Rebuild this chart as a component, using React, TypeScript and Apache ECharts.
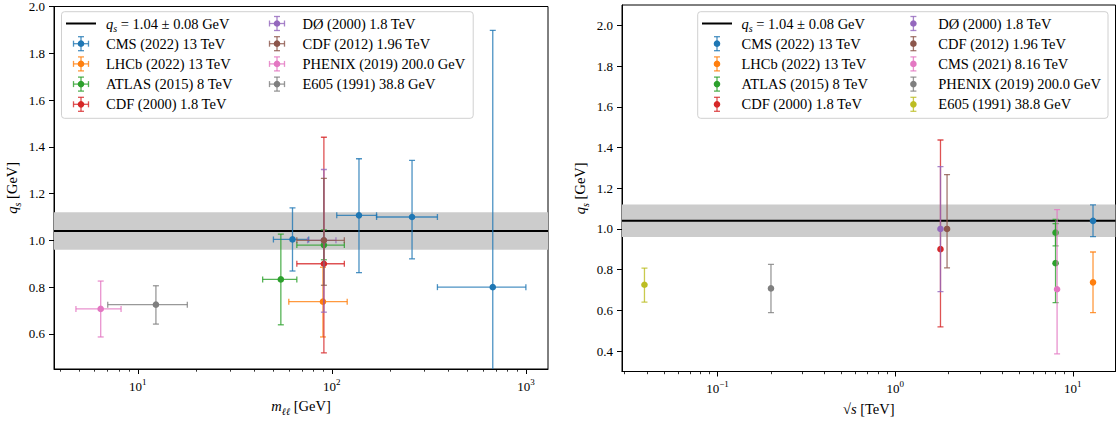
import React, { useEffect, useRef } from "react";
import * as echarts from "echarts";

const FONT = '"Liberation Serif", "Times New Roman", serif';

// ---------- Left panel: q_s versus m_ll [GeV] ----------
// tuples: [m_ll, m_ll low, m_ll high, q_s, q_s low, q_s high]
const mllCMS2022 = [
  [62.7, 50, 76, 1.004, 0.869, 1.139],
  [138, 106, 170, 1.107, 0.862, 1.349],
  [259, 170, 350, 1.1, 0.921, 1.342],
  [675, 350, 1000, 0.8, -0.3, 1.898],
];
const mllLHCb2022 = [[90, 60, 120, 0.738, 0.587, 0.885]];
const mllATLAS2015 = [
  [54.6, 44, 66, 0.833, 0.639, 1.027],
  [91, 66, 116, 0.98, 0.917, 1.045],
];
const mllCDF2000 = [[91, 66, 116, 0.9, 0.519, 1.441]];
const mllD02000 = [[91, 75, 105, 1.0, 0.693, 1.303]];
const mllCDF2012 = [[91, 66, 116, 1.0, 0.808, 1.265]];
const mllPHENIX2019 = [[6.44, 4.8, 8.2, 0.707, 0.587, 0.826]];
const mllE6051991 = [[12.4, 7, 18, 0.725, 0.642, 0.806]];

const leftLabels = [
  "CMS (2022) 13 TeV",
  "LHCb (2022) 13 TeV",
  "ATLAS (2015) 8 TeV",
  "CDF (2000) 1.8 TeV",
  "DØ (2000) 1.8 TeV",
  "CDF (2012) 1.96 TeV",
  "PHENIX (2019) 200.0 GeV",
  "E605 (1991) 38.8 GeV",
];
const leftColors = ["#1f77b4", "#ff7f0e", "#2ca02c", "#d62728", "#9467bd", "#8c564b", "#e377c2", "#7f7f7f"];
const leftData = [mllCMS2022, mllLHCb2022, mllATLAS2015, mllCDF2000, mllD02000, mllCDF2012, mllPHENIX2019, mllE6051991];

// ---------- Right panel: q_s versus sqrt(s) [TeV] ----------
// tuples: [sqrt(s), q_s, q_s low, q_s high]
const rtsCMS2022 = [[13, 1.04, 0.962, 1.118]];
const rtsLHCb2022 = [[13, 0.738, 0.589, 0.887]];
const rtsATLAS2015 = [
  [8, 0.982, 0.917, 1.047],
  [8, 0.832, 0.638, 1.026],
];
const rtsCDF2000 = [[1.8, 0.901, 0.519, 1.437]];
const rtsD02000 = [[1.8, 1.0, 0.692, 1.306]];
const rtsCDF2012 = [[1.96, 1.0, 0.809, 1.267]];
const rtsCMS2021 = [[8.16, 0.704, 0.387, 1.095]];
const rtsPHENIX2019 = [[0.2, 0.708, 0.589, 0.826]];
const rtsE6051991 = [[0.0388, 0.726, 0.641, 0.808]];

const rightLabels = [
  "CMS (2022) 13 TeV",
  "LHCb (2022) 13 TeV",
  "ATLAS (2015) 8 TeV",
  "CDF (2000) 1.8 TeV",
  "DØ (2000) 1.8 TeV",
  "CDF (2012) 1.96 TeV",
  "CMS (2021) 8.16 TeV",
  "PHENIX (2019) 200.0 GeV",
  "E605 (1991) 38.8 GeV",
];
const rightColors = ["#1f77b4", "#ff7f0e", "#2ca02c", "#d62728", "#9467bd", "#8c564b", "#e377c2", "#7f7f7f", "#bcbd22"];
const rightData = [rtsCMS2022, rtsLHCb2022, rtsATLAS2015, rtsCDF2000, rtsD02000, rtsCDF2012, rtsCMS2021, rtsPHENIX2019, rtsE6051991];

// ---------- Fit band q_s = 1.04 +- 0.08 ----------
const qsBand = [0.96, 1.12];
const qsCentral = 1.04;
const qsLabel = "{i|q}{s|s}{t| = 1.04 ± 0.08 GeV}";

// ---------- Axes ----------
const leftXRange = [3.7, 1300];
const leftYRange = [0.45, 2.0];
const rightXRange = [0.029, 17.4];
const rightYRange = [0.3, 2.1];
const leftXMajor = [10, 100, 1000];
const leftXMinor = [4, 5, 6, 7, 8, 9, 20, 30, 40, 50, 60, 70, 80, 90, 200, 300, 400, 500, 600, 700, 800, 900];
const rightXMajor = [0.1, 1, 10];
const rightXMinor = [0.03, 0.04, 0.05, 0.06, 0.07, 0.08, 0.09, 0.2, 0.3, 0.4, 0.5, 0.6, 0.7, 0.8, 0.9, 2, 3, 4, 5, 6, 7, 8, 9];
const leftYTicks = [0.6, 0.8, 1.0, 1.2, 1.4, 1.6, 1.8, 2.0];
const rightYTicks = [0.4, 0.6, 0.8, 1.0, 1.2, 1.4, 1.6, 1.8, 2.0];

const LEGEND_FS = 14.5;

const richText = {
  i: { fontFamily: FONT, fontStyle: "italic", fontSize: 14.5, color: "#000", lineHeight: 20, verticalAlign: "middle" },
  s: { fontFamily: FONT, fontStyle: "italic", fontSize: 10, color: "#000", lineHeight: 10, verticalAlign: "bottom" },
  t: { fontFamily: FONT, fontSize: 14.5, color: "#000", lineHeight: 20, verticalAlign: "middle" },
};

const supRich = {
  b: { fontFamily: FONT, fontSize: 13, color: "#000", lineHeight: 18, verticalAlign: "middle" },
  e: { fontFamily: FONT, fontSize: 9, color: "#000", lineHeight: 9, verticalAlign: "top" },
};

function logLabel(v: number) {
  const e = Math.round(Math.log10(v));
  return "{b|10}{e|" + (e < 0 ? "−" + -e : String(e)) + "}";
}

function errRenderer(color: string, withX: boolean) {
  return (params: any, api: any) => {
    let x: number, xl: number, xh: number, y: number, yl: number, yh: number;
    if (withX) {
      x = api.value(0); xl = api.value(1); xh = api.value(2);
      y = api.value(3); yl = api.value(4); yh = api.value(5);
    } else {
      x = api.value(0); y = api.value(1); yl = api.value(2); yh = api.value(3);
      xl = x; xh = x;
    }
    const c = api.coord([x, y]);
    const t = api.coord([x, yh]);
    const b = api.coord([x, yl]);
    const st = { stroke: color, lineWidth: 1.3, opacity: 0.8 };
    const cap = 3;
    const ln = (x1: number, y1: number, x2: number, y2: number) => ({
      type: "line",
      shape: { x1, y1, x2, y2 },
      style: st,
    });
    const ch: any[] = [];
    if (withX) {
      const l = api.coord([xl, y]);
      const r = api.coord([xh, y]);
      ch.push(ln(l[0], c[1], r[0], c[1]));
      ch.push(ln(l[0], c[1] - cap, l[0], c[1] + cap));
      ch.push(ln(r[0], c[1] - cap, r[0], c[1] + cap));
    }
    ch.push(ln(c[0], t[1], c[0], b[1]));
    ch.push(ln(c[0] - cap, t[1], c[0] + cap, t[1]));
    ch.push(ln(c[0] - cap, b[1], c[0] + cap, b[1]));
    ch.push({ type: "circle", shape: { cx: c[0], cy: c[1], r: 3.3 }, style: { fill: color } });
    return { type: "group", children: ch };
  };
}

function bandSeries(axisIdx: number, xMin: number) {
  return {
    type: "custom",
    xAxisIndex: axisIdx * 2,
    yAxisIndex: axisIdx,
    data: [[qsBand[0], qsBand[1], qsCentral]],
    encode: { x: 0, y: 1 },
    clip: true,
    z: 1,
    silent: true,
    renderItem: (params: any, api: any) => {
      const cs = params.coordSys;
      const top = api.coord([xMin, api.value(1)])[1];
      const bot = api.coord([xMin, api.value(0)])[1];
      const mid = api.coord([xMin, api.value(2)])[1];
      return {
        type: "group",
        children: [
          { type: "rect", shape: { x: cs.x, y: top, width: cs.width, height: bot - top }, style: { fill: "#cccccc" } },
          { type: "line", shape: { x1: cs.x, y1: mid, x2: cs.x + cs.width, y2: mid }, style: { stroke: "#000", lineWidth: 2 } },
        ],
      };
    },
  };
}

function makeLegend(
  box: number[],
  colHandle: number[],
  colText: number[],
  rows: number[],
  labels: string[],
  colors: string[],
  withX: boolean
) {
  const els: any[] = [];
  els.push({
    type: "rect",
    shape: { x: box[0], y: box[1], width: box[2], height: box[3], r: 3 },
    style: { fill: "rgba(255,255,255,0.8)", stroke: "#d0d0d0", lineWidth: 1 },
    z: 100,
  });
  const entries: any[] = [{ kind: "line" }];
  labels.forEach((l, i) => entries.push({ kind: "err", label: l, color: colors[i] }));
  const perCol = rows.length;
  entries.forEach((en, k) => {
    const col = Math.floor(k / perCol);
    const row = k % perCol;
    const hx = colHandle[col];
    const ty = rows[row];
    if (en.kind === "line") {
      els.push({
        type: "line",
        shape: { x1: hx - 15, y1: ty, x2: hx + 15, y2: ty },
        style: { stroke: "#000", lineWidth: 2 },
        z: 101,
      });
      els.push({
        type: "text",
        x: colText[col],
        y: ty,
        style: { text: qsLabel, rich: richText, verticalAlign: "middle", align: "left" },
        z: 101,
      });
    } else {
      const st = { stroke: en.color, lineWidth: 1.3, opacity: 0.8 };
      const add = (x1: number, y1: number, x2: number, y2: number) =>
        els.push({ type: "line", shape: { x1, y1, x2, y2 }, style: st, z: 101 });
      if (withX) {
        add(hx - 7.5, ty, hx + 7.5, ty);
        add(hx - 7.5, ty - 3, hx - 7.5, ty + 3);
        add(hx + 7.5, ty - 3, hx + 7.5, ty + 3);
      }
      add(hx, ty - 7, hx, ty + 7);
      add(hx - 3, ty - 7, hx + 3, ty - 7);
      add(hx - 3, ty + 7, hx + 3, ty + 7);
      els.push({ type: "circle", shape: { cx: hx, cy: ty, r: 3.3 }, style: { fill: en.color }, z: 102 });
      els.push({
        type: "text",
        x: colText[col],
        y: ty,
        style: { text: en.label, fontFamily: FONT, fontSize: LEGEND_FS, fill: "#000", verticalAlign: "middle", align: "left" },
        z: 101,
      });
    }
  });
  return els;
}

function xAxes(gridIndex: number, range: number[], major: number[], minor: number[], name: string) {
  return [
    {
      type: "log",
      logBase: 10,
      gridIndex,
      position: "bottom",
      min: range[0],
      max: range[1],
      axisLine: { show: true, onZero: false, lineStyle: { color: "#000", width: 1 } },
      axisTick: { show: true, customValues: major, length: 5, lineStyle: { color: "#000", width: 1 } },
      axisLabel: { show: true, customValues: major, formatter: logLabel, rich: supRich, margin: 8 },
      splitLine: { show: false },
      minorTick: { show: false },
      name,
      nameLocation: "middle",
      nameGap: 27,
      nameTextStyle: { rich: richText },
    },
    {
      type: "log",
      logBase: 10,
      gridIndex,
      position: "bottom",
      min: range[0],
      max: range[1],
      axisLine: { show: false, onZero: false },
      axisTick: { show: true, customValues: minor, length: 2.7, lineStyle: { color: "#000", width: 0.8 } },
      axisLabel: { show: false },
      splitLine: { show: false },
    },
  ];
}

function yAxis(gridIndex: number, range: number[], ticks: number[]) {
  return {
    type: "value",
    gridIndex,
    min: range[0],
    max: range[1],
    axisLine: { show: true, onZero: false, lineStyle: { color: "#000", width: 1 } },
    axisTick: { show: true, customValues: ticks, length: 5, lineStyle: { color: "#000", width: 1 } },
    axisLabel: {
      show: true,
      customValues: ticks,
      formatter: (v: number) => v.toFixed(1),
      fontFamily: FONT,
      fontSize: 13,
      color: "#000",
      margin: 9,
    },
    splitLine: { show: false },
    name: "{i|q}{s|s}{t| [GeV]}",
    nameLocation: "middle",
    nameGap: 32,
    nameTextStyle: { rich: richText },
  };
}

export default function App() {
  const ref = useRef<HTMLDivElement>(null);
  useEffect(() => {
    if (!ref.current) return;
    const chart = echarts.init(ref.current, undefined, { renderer: "svg" });
    const series: any[] = [];
    series.push(bandSeries(0, leftXRange[0]));
    series.push(bandSeries(1, rightXRange[0]));
    leftData.forEach((d, i) => {
      series.push({
        type: "custom",
        name: leftLabels[i],
        xAxisIndex: 0,
        yAxisIndex: 0,
        data: d,
        encode: { x: 0, y: 3 },
        clip: true,
        z: 3,
        renderItem: errRenderer(leftColors[i], true),
      });
    });
    rightData.forEach((d, i) => {
      series.push({
        type: "custom",
        name: rightLabels[i],
        xAxisIndex: 2,
        yAxisIndex: 1,
        data: d,
        encode: { x: 0, y: 1 },
        clip: true,
        z: 3,
        renderItem: errRenderer(rightColors[i], false),
      });
    });
    const rows = [23.5, 43.7, 63.9, 84.1, 104.3];
    const graphics = [
      ...makeLegend([61.5, 11.7, 411.7, 106.6], [81, 277], [106, 302.5], rows, leftLabels, leftColors, true),
      ...makeLegend([697.7, 11.7, 410.3, 106.6], [717, 913.4], [741.5, 938.3], rows, rightLabels, rightColors, false),
    ];
    chart.setOption({
      animation: false,
      backgroundColor: "#fff",
      textStyle: { fontFamily: FONT },
      grid: [
        { left: 54, top: 5, width: 494, height: 367, show: true, borderColor: "#000", borderWidth: 1, backgroundColor: "transparent" },
        { left: 622, top: 5, width: 493.5, height: 367, show: true, borderColor: "#000", borderWidth: 1, backgroundColor: "transparent" },
      ],
      xAxis: [
        ...xAxes(0, leftXRange, leftXMajor, leftXMinor, "{i|m}{s|ℓℓ}{t| [GeV]}"),
        ...xAxes(1, rightXRange, rightXMajor, rightXMinor, "{t|√}{i|s}{t| [TeV]}"),
      ],
      yAxis: [yAxis(0, leftYRange, leftYTicks), yAxis(1, rightYRange, rightYTicks)],
      series,
      graphic: { elements: graphics },
    });
    return () => chart.dispose();
  }, []);
  return (
    <div
      ref={ref}
      style={{ position: "absolute", left: 0, top: 0, width: 1118, height: 421 }}
    />
  );
}
